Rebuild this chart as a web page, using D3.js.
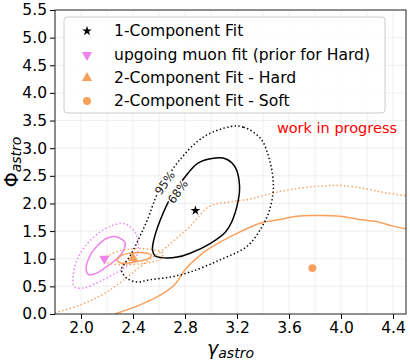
<!DOCTYPE html>
<html><head><meta charset="utf-8">
<script src="https://cdn.jsdelivr.net/npm/d3@7"></script>
<style>body{margin:0;background:#fff}svg{display:block}text{font-family:"DejaVu Sans",sans-serif}</style>
</head><body>
<svg id="c" width="410" height="360"></svg>
<script>
// ---- data ----
const xTicks = [2.0, 2.4, 2.8, 3.2, 3.6, 4.0, 4.4];
const yTicks = [0.0, 0.5, 1.0, 1.5, 2.0, 2.5, 3.0, 3.5, 4.0, 4.5, 5.0, 5.5];
const xGrid = [1.8,2.0,2.2,2.4,2.6,2.8,3.0,3.2,3.4,3.6,3.8,4.0,4.2,4.4];
const yGrid = [0.5,1.0,1.5,2.0,2.5,3.0,3.5,4.0,4.5,5.0];

const oneComp68 = {x:[2.55,2.57,2.62,2.74,2.84,2.99,3.11,3.16,3.21,3.22,3.19,3.12,3.02,2.90,2.80,2.70,2.61,2.56],
                   y:[1.16,1.05,1.02,1.03,1.10,1.27,1.48,1.67,2.06,2.30,2.64,2.80,2.82,2.73,2.48,2.15,1.70,1.34]};
const oneComp95 = {x:[3.15,3.25,3.38,3.45,3.48,3.45,3.39,3.28,3.07,2.84,2.69,2.53,2.43,2.35,2.31,2.33,2.39,2.45,2.51,2.59,2.65,2.76,2.94],
                   y:[3.39,3.38,3.18,2.79,2.30,1.88,1.57,1.23,0.98,0.76,0.67,0.62,0.58,0.65,0.80,0.89,1.10,1.39,1.70,2.19,2.42,2.79,3.20]};
const muon68 = {x:[2.32,2.26,2.20,2.12,2.06,2.04,2.06,2.12,2.20,2.28,2.33,2.34],
                y:[1.34,1.40,1.37,1.22,1.01,0.80,0.71,0.74,0.86,1.01,1.16,1.28]};
const muon95 = {x:[2.31,2.25,2.15,2.04,1.97,1.94,1.95,2.02,2.12,2.22,2.33,2.42,2.44,2.42,2.36],
                y:[1.64,1.61,1.49,1.25,0.98,0.68,0.49,0.47,0.56,0.68,0.83,1.01,1.22,1.46,1.61]};
const hard68 = {x:[2.28,2.32,2.38,2.48,2.54,2.52,2.45,2.35,2.29],
                y:[0.98,1.07,1.10,1.11,1.07,1.00,0.96,0.92,0.94]};
const hard95 = {x:[2.17,2.22,2.35,2.53,2.63,2.61,2.56,2.35,2.22],
                y:[0.98,1.07,1.17,1.17,1.10,1.00,0.95,0.89,0.92]};
const soft68 = {x:[2.26,2.45,2.61,2.72,2.80,2.89,2.99,3.20,3.39,3.53,3.66,3.81,3.99,4.17,4.28,4.40,4.50],
                y:[0.00,0.16,0.34,0.53,0.80,1.01,1.19,1.46,1.65,1.71,1.77,1.78,1.77,1.70,1.67,1.59,1.54]};
const soft95 = {x:[1.80,1.99,2.15,2.28,2.38,2.49,2.61,2.72,2.84,2.99,3.15,3.30,3.48,3.69,3.88,4.03,4.20,4.35,4.50],
                y:[0.02,0.16,0.33,0.53,0.71,0.92,1.12,1.34,1.59,1.95,2.03,2.08,2.19,2.28,2.32,2.32,2.26,2.19,2.14]};

const bestFits = [
  {name:"1-Component Fit", x:2.88, y:1.87},
  {name:"upgoing muon fit (prior for Hard)", x:2.18, y:1.00},
  {name:"2-Component Fit - Hard", x:2.40, y:1.01},
  {name:"2-Component Fit - Soft", x:3.78, y:0.83}
];
const contourLabels = [{t:"95%", x:2.645, y:2.37}, {t:"68%", x:2.745, y:2.21}];

// ---- layout ----
const L = 55, R = 406, T = 10, B = 314;
const BLACK = "#000", PINK = "#ee82ee", ORANGE = "#f8a05c";
const svg = d3.select("#c");
const x = d3.scaleLinear().domain([1.8, 4.5]).range([L, R]);
const y = d3.scaleLinear().domain([0, 5.5]).range([B, T]);

svg.append("defs").append("clipPath").attr("id","clip")
  .append("rect").attr("x",L).attr("y",T).attr("width",R-L).attr("height",B-T);

// grid
const g = svg.append("g").attr("stroke","#ebebeb").attr("stroke-width",0.8);
g.selectAll(".gx").data(xGrid).join("line").attr("x1",d=>x(d)).attr("x2",d=>x(d)).attr("y1",T).attr("y2",B);
g.selectAll(".gy").data(yGrid).join("line").attr("y1",d=>y(d)).attr("y2",d=>y(d)).attr("x1",L).attr("x2",R);

// contours
const plot = svg.append("g").attr("clip-path","url(#clip)");
function drawC(c, color, dotted, closed){
  const pts = c.x.map((v,i)=>[x(v), y(c.y[i])]);
  const line = d3.line().curve(closed ? d3.curveCatmullRomClosed.alpha(0.5) : d3.curveCatmullRom.alpha(0.5));
  plot.append("path").attr("d", line(pts)).attr("fill","none").attr("stroke",color)
    .attr("stroke-width",1.5).attr("stroke-dasharray", dotted ? "1.4,2.4" : null);
}
drawC(soft95, ORANGE, true, false);
drawC(soft68, ORANGE, false, false);
drawC(muon95, PINK, true, true);
drawC(muon68, PINK, false, true);
drawC(hard95, ORANGE, true, true);
drawC(hard68, ORANGE, false, true);
drawC(oneComp95, BLACK, true, true);
drawC(oneComp68, BLACK, false, true);

// contour labels
plot.selectAll(".cl").data(contourLabels).join("text")
  .attr("transform", d=>`translate(${x(d.x)},${y(d.y)}) rotate(-55)`)
  .attr("text-anchor","middle").attr("dominant-baseline","central")
  .attr("font-size",11.5).attr("fill","#222")
  .attr("stroke","#fff").attr("stroke-width",3).attr("paint-order","stroke")
  .text(d=>d.t);

// markers
const symStyles = [
  {sym:d3.symbolStar, size:30, color:BLACK, rot:0},
  {sym:d3.symbolTriangle, size:45, color:PINK, rot:180},
  {sym:d3.symbolTriangle, size:45, color:ORANGE, rot:0},
  {sym:d3.symbolCircle, size:50, color:ORANGE, rot:0}
];
plot.selectAll(".m").data(bestFits).join("path")
  .attr("d",(d,i)=>d3.symbol().type(symStyles[i].sym).size(symStyles[i].size)())
  .attr("transform",(d,i)=>`translate(${x(d.x)},${y(d.y)}) rotate(${symStyles[i].rot})`)
  .attr("fill",(d,i)=>symStyles[i].color);

// axes
const ax = svg.append("g").attr("transform",`translate(0,${B})`)
  .call(d3.axisBottom(x).tickValues(xTicks).tickFormat(d3.format(".1f")).tickSize(5).tickPadding(3));
const ay = svg.append("g").attr("transform",`translate(${L},0)`)
  .call(d3.axisLeft(y).tickValues(yTicks).tickFormat(d3.format(".1f")).tickSize(5).tickPadding(3));
[ax, ay].forEach(a=>{
  a.select(".domain").remove();
  a.selectAll("text").attr("font-size",15.5).attr("fill","#000").attr("font-family","DejaVu Sans");
  a.selectAll("line").attr("stroke","#000").attr("stroke-width",1);
});
svg.append("rect").attr("x",L).attr("y",T).attr("width",R-L).attr("height",B-T)
  .attr("fill","none").attr("stroke","#222").attr("stroke-width",1);

// axis labels
const xl = svg.append("text").attr("x",(L+R)/2).attr("y",355).attr("text-anchor","middle").attr("font-size",19);
xl.append("tspan").attr("font-style","italic").text("γ");
xl.append("tspan").attr("font-style","italic").attr("font-size",14).attr("dy",3).text("astro");
const yl = svg.append("text").attr("transform",`translate(18,${(T+B)/2}) rotate(-90)`).attr("text-anchor","middle").attr("font-size",19);
yl.append("tspan").text("Φ");
yl.append("tspan").attr("font-style","italic").attr("font-size",14).attr("dy",3).text("astro");

// work in progress
svg.append("text").attr("x",397).attr("y",133).attr("text-anchor","end").attr("font-size",14.5).attr("fill","#ff0000").text("work in progress");

// legend
const lg = svg.append("g");
lg.append("rect").attr("x",64).attr("y",17).attr("width",321).attr("height",96).attr("rx",3)
  .attr("fill","#fff").attr("fill-opacity",0.85).attr("stroke","#cccccc").attr("stroke-width",1);
const rows = [31, 55, 78, 101];
bestFits.forEach((d,i)=>{
  const s = symStyles[i];
  lg.append("path").attr("d",d3.symbol().type(s.sym).size(s.size)())
    .attr("transform",`translate(87,${rows[i]}) rotate(${s.rot})`).attr("fill",s.color);
  lg.append("text").attr("x",114).attr("y",rows[i]).attr("dominant-baseline","central")
    .attr("font-size",15.6).attr("fill","#000").text(d.name);
});
</script>
</body></html>
